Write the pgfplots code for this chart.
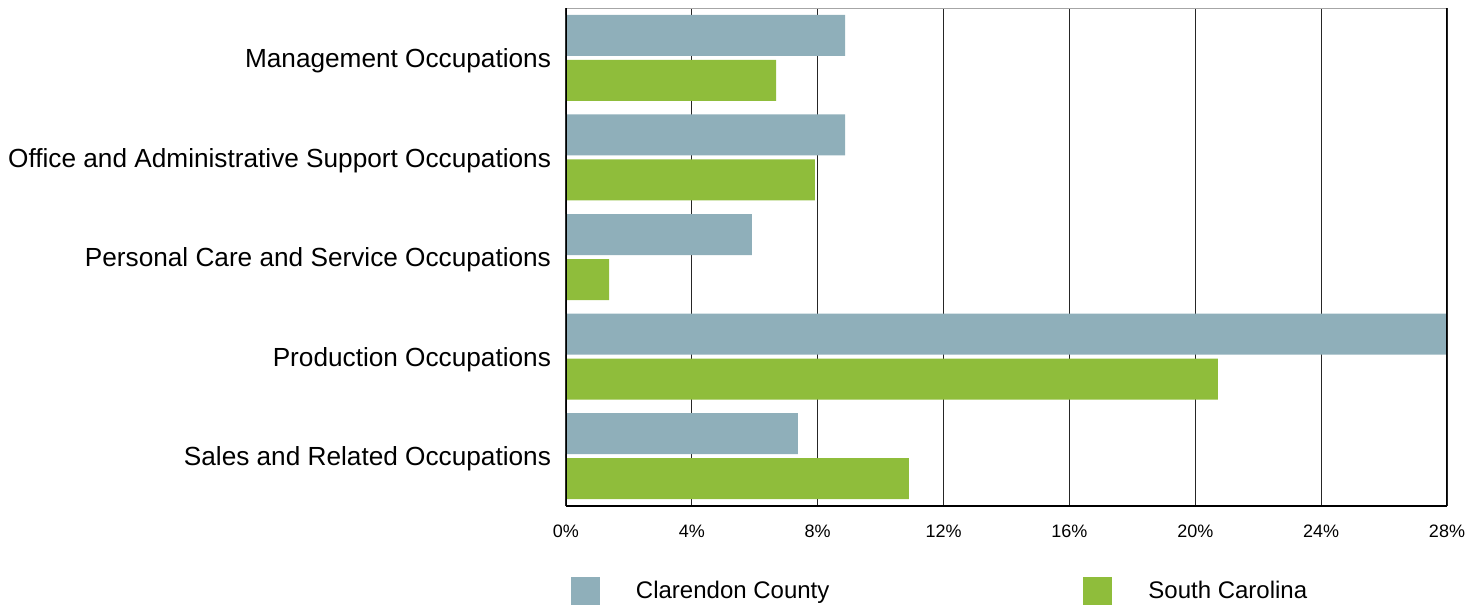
\documentclass[border=0pt]{standalone}
\usepackage{fontspec}
\setmainfont{Liberation Sans}
\usepackage{pgfplots}
\pgfplotsset{compat=1.18}
\definecolor{clar}{RGB}{143,175,186}
\definecolor{scgreen}{RGB}{143,189,59}
\begin{document}
\begin{tikzpicture}
\path[use as bounding box] (-283pt,-50pt) rectangle (457.5pt,253pt);
\begin{axis}[
  at={(0,0)}, anchor=south west,
  scale only axis, width=440.5pt, height=249pt,
  xmin=0, xmax=28, ymin=-0.5, ymax=4.5,
  axis line style={draw=none},
  xtick={0,4,8,12,16,20,24,28},
  xticklabels={0\%,4\%,8\%,12\%,16\%,20\%,24\%,28\%},
  ytick={0,1,2,3,4},
  yticklabels={Sales and Related Occupations, Production Occupations, Personal Care and Service Occupations, Office and Administrative Support Occupations, Management Occupations},
  major tick length=0pt,
  xmajorgrids, grid style={black!85, line width=0.5pt},
  xticklabel style={font=\fontsize{9}{10}\selectfont, yshift=-6pt},
  yticklabel style={font=\fontsize{13.1}{15}\selectfont, xshift=-4pt, yshift=-1.5pt},
  legend columns=2,
  legend style={draw=none, fill=none, at={(axis description cs:0,0)}, anchor=north west,
    xshift=2.5pt, yshift=-35.5pt, inner sep=0pt, outer sep=0pt,
    font=\fontsize{12}{14}\selectfont,
    /tikz/every odd column/.append style={column sep=16pt},
    /tikz/every even column/.append style={column sep=125pt}},
  legend image code/.code={\fill[#1,draw=none] (0pt,-7pt) rectangle (14.5pt,7pt);},
]
\addplot[xbar, bar width=20.5pt, bar shift=11.25pt, fill=clar, draw=none]
  coordinates {(8.87,4) (8.87,3) (5.91,2) (27.97,1) (7.37,0)};
\addlegendentry{Clarendon County}
\addplot[xbar, bar width=20.5pt, bar shift=-11.25pt, fill=scgreen, draw=none]
  coordinates {(6.68,4) (7.91,3) (1.37,2) (20.72,1) (10.90,0)};
\addlegendentry{South Carolina}
\draw[gray!70, line width=0.75pt] (axis cs:0,4.5) -- (axis cs:28,4.5);
\draw[black, line width=0.75pt] (axis cs:0,-0.5) -- (axis cs:0,4.5);
\draw[black, line width=0.75pt] (axis cs:28,-0.5) -- (axis cs:28,4.5);
\draw[black, line width=1.25pt] (axis cs:0,-0.5) -- (axis cs:28,-0.5);
\end{axis}
\end{tikzpicture}
\end{document}
